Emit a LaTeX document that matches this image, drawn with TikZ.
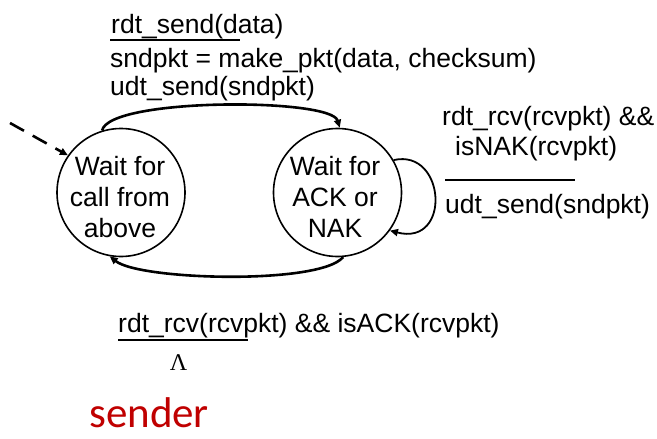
\documentclass[tikz,border=0pt]{standalone}
\usepackage{fontspec}
\setmainfont{Liberation Sans}
\newfontfamily\lamfont{Liberation Serif}
\newfontfamily\senderfont{Carlito}
\usetikzlibrary{arrows.meta}
\definecolor{senderred}{RGB}{192,0,0}
\begin{document}
\begin{tikzpicture}[x=1pt,y=-1pt,
  state/.style={circle,draw,line width=1.6pt,minimum size=128pt,inner sep=0pt},
  statetext/.style={align=center,inner sep=0pt,font=\fontsize{26.5pt}{31pt}\selectfont},
  lbl/.style={anchor=base west,inner sep=0pt,font=\fontsize{26.5pt}{31pt}\selectfont},
  tip/.style={-{Triangle[length=8pt,width=7pt]}},
  trans/.style={line width=2.6pt,tip},
  loopline/.style={line width=1.8pt,tip},
  bar/.style={line width=2.6pt}]
\useasboundingbox[fill=white] (0,0) rectangle (657,439);
% states
\node[state] (w1) at (121,192.5) {};
\node[state] (w2) at (337.5,192.5) {};
\node[statetext] (t1) at (120,197) {Wait for\\call from\\above};
\node[statetext] (t2) at (335,197) {Wait for\\ACK or\\NAK};
% initial dashed arrow
\coordinate (init) at (10,123);
\draw[line width=2.6pt,dash pattern=on 16pt off 10pt,tip] (init) -- (w1.145);
% transitions
\draw[trans] (w1.107) .. controls +(7,-33) and +(-9,-30) .. (w2.88);
\draw[trans] (w2.-85) .. controls +(-23,28) and +(30,24) .. (w1.-100);
\draw[loopline] (w2.30) .. controls +(52,-12) and +(62,16) .. (w2.-36);
% top label
\node[lbl] (a1) at (111,33) {rdt\_send(data)};
\draw[bar] (110,40) -- (240,40);
\node[lbl] (a2) at (110,67) {sndpkt = make\_pkt(data, checksum)};
\node[lbl] (a3) at (110,95) {udt\_send(sndpkt)};
% right label
\node[lbl] (b1) at (442,125) {rdt\_rcv(rcvpkt) \&\&};
\node[lbl] (b2) at (455,155) {isNAK(rcvpkt)};
\draw[bar] (445,180) -- (575,180);
\node[lbl] (b3) at (445,213) {udt\_send(sndpkt)};
% bottom label
\node[lbl] (c1) at (118,332) {rdt\_rcv(rcvpkt) \&\& isACK(rcvpkt)};
\draw[bar] (118,340) -- (248,340);
\node[anchor=base,inner sep=0pt,font=\lamfont\fontsize{24pt}{28pt}\selectfont] (lam) at (178.5,370) {Λ};
% sender
\node[anchor=base west,inner sep=0pt,text=senderred,font=\senderfont\fontsize{43pt}{50pt}\selectfont] (snd) at (89,427) {sender};
\end{tikzpicture}
\end{document}
